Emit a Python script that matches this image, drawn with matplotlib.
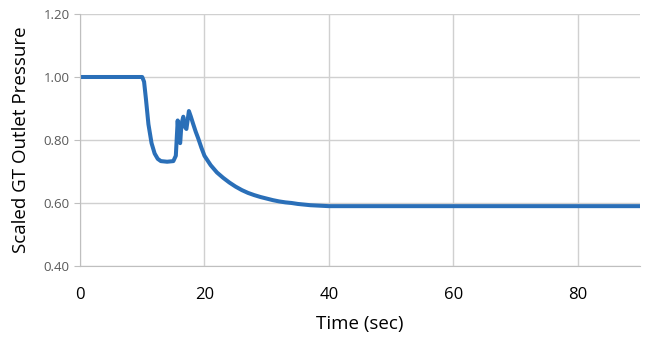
import matplotlib.pyplot as plt

# Data
time_s = [0, 10.0, 10.3, 10.6, 11.0, 11.5, 12.0, 12.5, 13.0, 14.0,
          15.0, 15.4, 15.7, 15.9, 16.1, 16.3, 16.6, 16.9, 17.1, 17.5,
          17.8, 18.2, 18.6, 19.0, 19.5, 20.0, 21.0, 22.0, 23.0, 24.0,
          25.0, 26.0, 27.0, 28.0, 29.0, 30.0, 31.0, 32.0, 33.0, 34.0,
          35.0, 36.0, 37.0, 38.0, 39.0, 40.0, 90.0]
pressure = [1.00, 1.00, 0.985, 0.93, 0.85, 0.79, 0.757, 0.740, 0.733, 0.731,
            0.733, 0.75, 0.862, 0.80, 0.79, 0.85, 0.874, 0.84, 0.835, 0.892,
            0.875, 0.85, 0.826, 0.805, 0.776, 0.750, 0.720, 0.697, 0.680, 0.665,
            0.652, 0.641, 0.632, 0.625, 0.619, 0.614, 0.609, 0.605, 0.602, 0.600,
            0.597, 0.595, 0.593, 0.592, 0.591, 0.590, 0.590]

x_ticks = [0, 20, 40, 60, 80]
y_ticks = [0.40, 0.60, 0.80, 1.00, 1.20]

plt.rcParams['font.family'] = ['Open Sans', 'DejaVu Sans']

fig = plt.figure(figsize=(6.5, 3.5), dpi=100)
ax = fig.add_axes([0.123, 0.24, 0.862, 0.72])

ax.plot(time_s, pressure, color="#2a6fb8", lw=2.9,
        solid_joinstyle="round", solid_capstyle="round")

ax.set_xlim(0, 90)
ax.set_ylim(0.40, 1.20)
ax.set_xticks(x_ticks)
ax.set_yticks(y_ticks)
ax.set_yticklabels([f"{v:.2f}" for v in y_ticks])

ax.grid(True, color="#d0d0d0", lw=1)
ax.set_axisbelow(True)
for side in ["top", "right"]:
    ax.spines[side].set_visible(False)
for side in ["left", "bottom"]:
    ax.spines[side].set_color("#bfbfbf")

ax.tick_params(axis="y", labelsize=9.5, labelcolor="#595959", color="#bfbfbf", length=4)
ax.tick_params(axis="x", labelsize=12, labelcolor="black", length=0, pad=15)

ax.set_xlabel("Time (sec)", fontsize=13.5, labelpad=9)
ax.set_ylabel("Scaled GT Outlet Pressure", fontsize=13.5, labelpad=10)

fig.savefig("out.png", dpi=100)
